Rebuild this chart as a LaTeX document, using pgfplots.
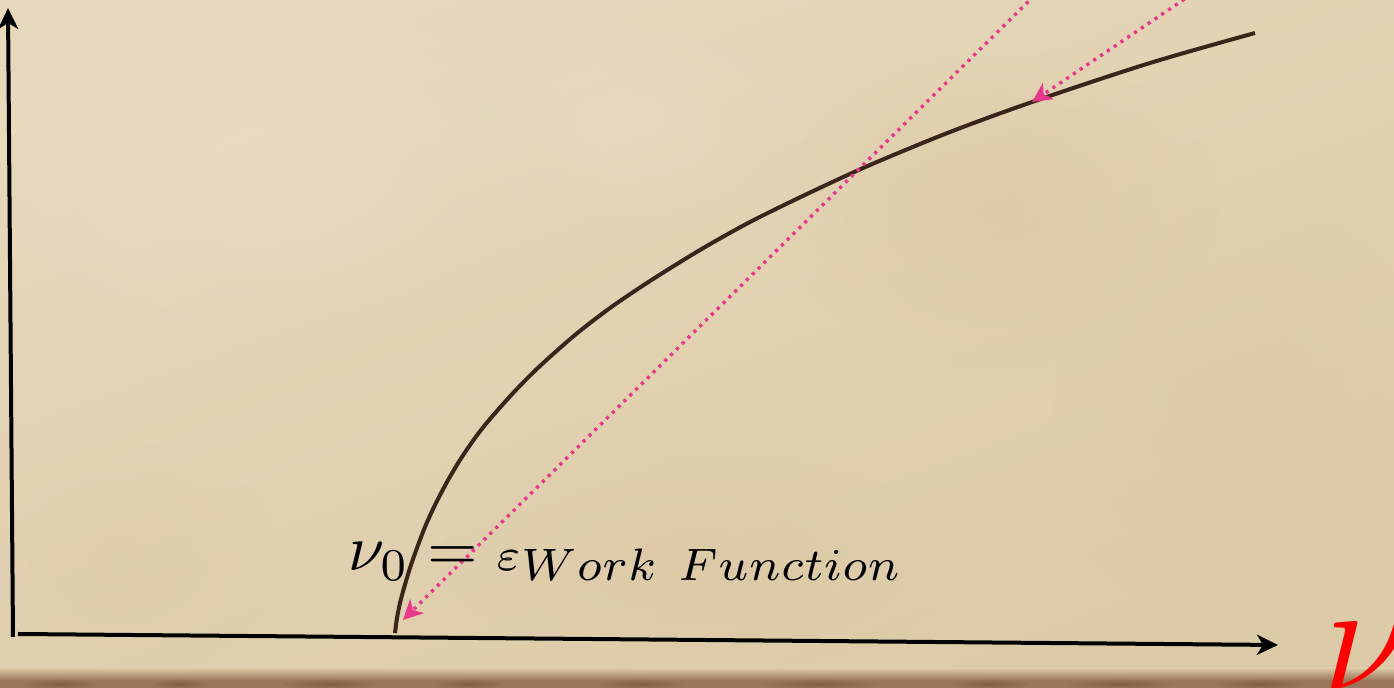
\documentclass[border=0pt]{standalone}
\usepackage{pgfplots}
\pgfplotsset{compat=1.18}
\usetikzlibrary{arrows.meta,fadings}

\definecolor{paperA}{HTML}{E6D8BB}
\definecolor{paperB}{HTML}{DDCAA7}
\definecolor{paperSpot}{HTML}{D6BE95}
\definecolor{paperLight}{HTML}{ECE0C6}
\definecolor{edgeBrown}{HTML}{9A7759}
\definecolor{edgeDark}{HTML}{6F4E3A}
\definecolor{curveBrown}{HTML}{3B251B}
\definecolor{guidePink}{HTML}{E8398A}

\tikzfading[name=softblob, inner color=transparent!0, outer color=transparent!100]

% photoelectric threshold curve, in picture units (x right, y down)
\pgfplotstableread{
x y
395 633
397 618
400 603
404 588
410 568
417 548
425 527
435 505
447 482
460 460
475 438
490 419
515 391
540 366
575 335
610 308
650 281
700 250
750 222
807 194
870 165
950 132
1035 101
1150 63
1255 33
}\curvedata

\begin{document}
\begin{tikzpicture}
\path[use as bounding box] (0pt,0pt) rectangle (697pt,344pt);
\clip (0pt,0pt) rectangle (697pt,344pt);

% parchment background
\begin{scope}[x=0.5pt,y=-0.5pt,yshift=344pt]
  \shade[top color=paperA, bottom color=paperB, shading angle=20] (0,0) rectangle (1394,688);
  \fill[paperLight, path fading=softblob, fill opacity=0.5] (250,150) ellipse [x radius=320, y radius=200];
  \fill[paperSpot, path fading=softblob, fill opacity=0.35] (1000,210) ellipse [x radius=220, y radius=160];
  \fill[paperSpot, path fading=softblob, fill opacity=0.22] (1250,420) ellipse [x radius=200, y radius=220];
  \fill[paperSpot, path fading=softblob, fill opacity=0.25] (700,560) ellipse [x radius=260, y radius=110];
  \fill[paperLight, path fading=softblob, fill opacity=0.35] (620,120) ellipse [x radius=200, y radius=120];
  \fill[paperSpot, path fading=softblob, fill opacity=0.20] (120,560) ellipse [x radius=160, y radius=120];
  % worn lower edge
  \shade[top color=paperB, bottom color=edgeBrown] (0,668) rectangle (1394,680);
  \fill[edgeBrown] (0,680) rectangle (1394,690);
  \foreach \cx/\w in {60/40,180/30,330/50,470/35,640/45,820/60,990/40,1120/55,1260/45}{
    \fill[edgeDark, path fading=softblob, fill opacity=0.6] (\cx,684) ellipse [x radius=\w, y radius=5];
  }
\end{scope}

\begin{axis}[
  at={(0pt,0pt)}, anchor=south west,
  scale only axis, width=697pt, height=344pt,
  xmin=0, xmax=1394, ymin=0, ymax=688, y dir=reverse,
  hide axis, clip=false,
]
  % coordinate axes
  \draw[line width=2pt, -{Stealth[length=10.5pt, width=10pt, inset=3pt]}]
    (axis cs:13,637) -- (axis cs:8,8);
  \draw[line width=2pt, -{Stealth[length=10.5pt, width=10pt, inset=3pt]}]
    (axis cs:18,634) -- (axis cs:1278,645);

  % curve
  \addplot[curveBrown, line width=2pt, smooth, tension=0.5, no markers]
    table[x=x, y=y] {\curvedata};

  % dotted guide lines
  \addplot[guidePink, line width=1.7pt, dash pattern=on 1.6pt off 2.5pt,
    -{Stealth[length=10pt, width=10pt, inset=3pt, line width=0pt]}, no markers]
    coordinates {(1040,-10) (403,620)};
  \addplot[guidePink, line width=1.7pt, dash pattern=on 1.6pt off 2.5pt,
    -{Stealth[length=10pt, width=10pt, inset=3pt, line width=0pt]}, no markers]
    coordinates {(1198,-10) (1032,102)};

  % labels
  \node[anchor=base west, inner sep=0pt, scale=3.25] at (axis cs:347,571)
    {$\nu_0 = {\scriptstyle\varepsilon}_{Work\ Function}$};
  \node[anchor=base west, inner sep=0pt, text=red, scale=7.7] at (axis cs:1320,690)
    {$\nu$};
\end{axis}
\end{tikzpicture}
\end{document}
